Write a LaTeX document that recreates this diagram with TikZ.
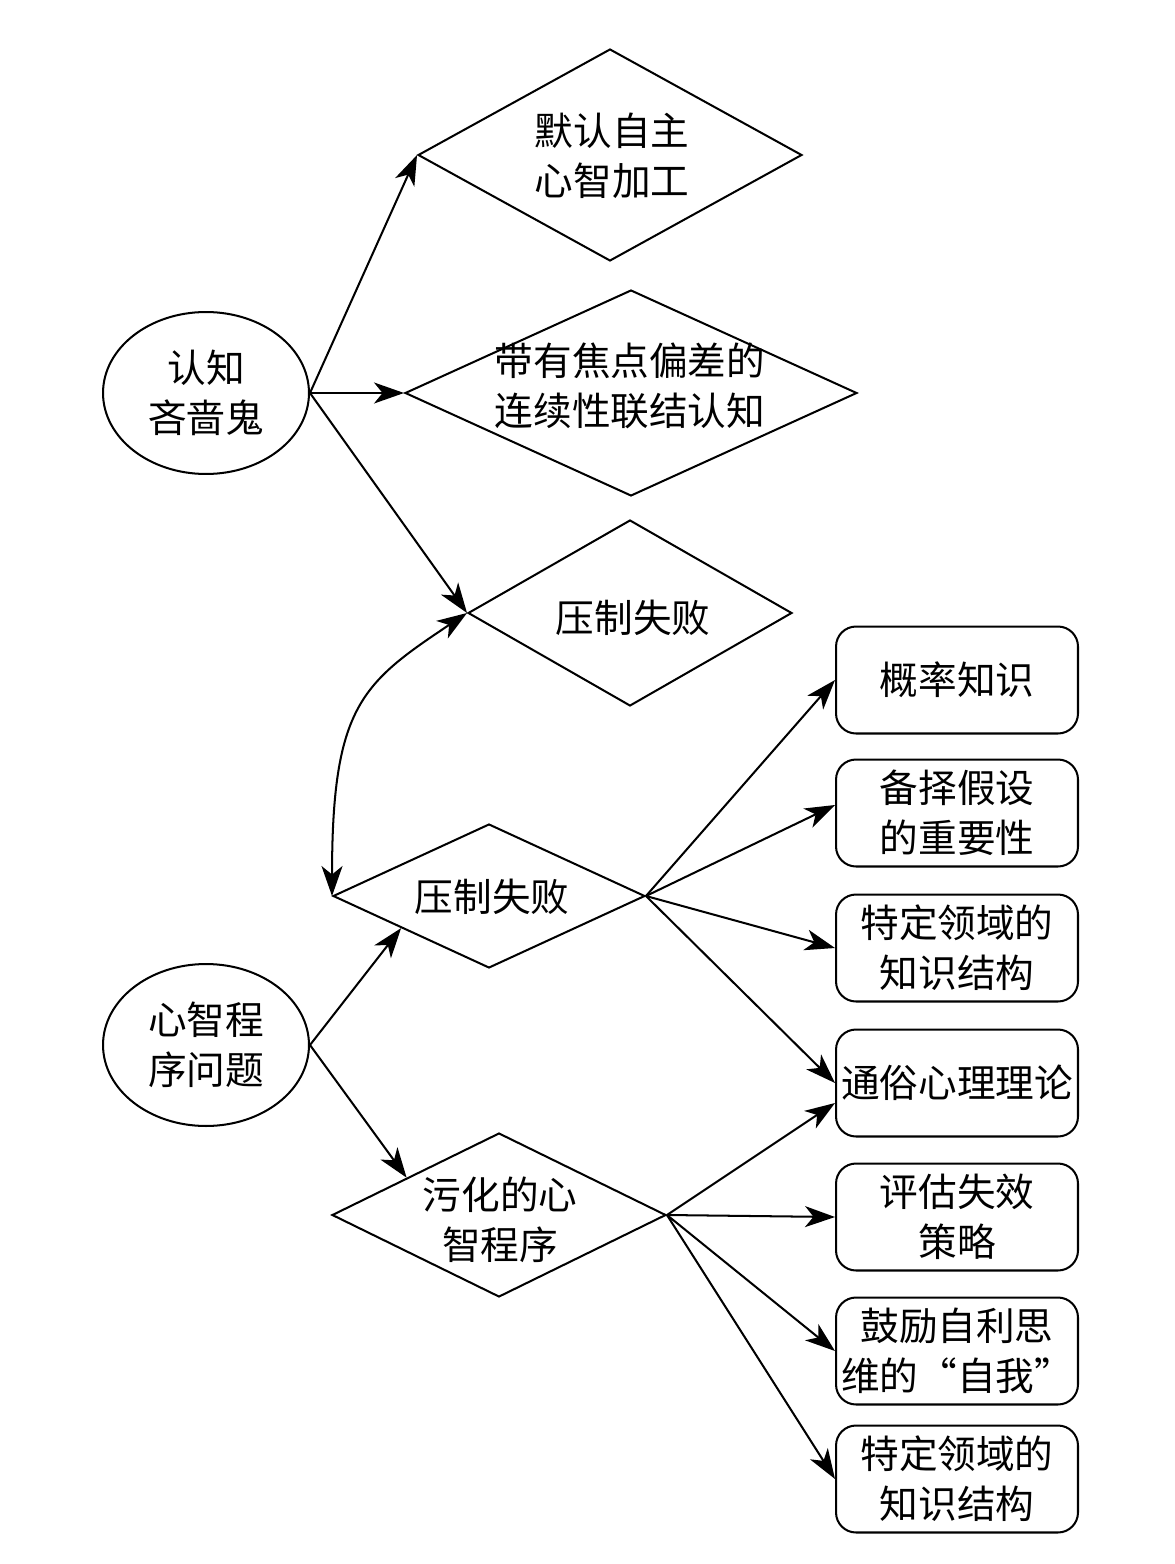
\documentclass[tikz,border=0pt]{standalone}
\usepackage{fontspec}
\setmainfont{Noto Sans CJK SC}
\usetikzlibrary{shapes.geometric,arrows.meta,calc}
\newcommand\cjkfs{\fontsize{22pt}{28.5pt}\selectfont}
\begin{document}
\begin{tikzpicture}[x=0.02cm,y=-0.02cm,
  lw/.style={line width=1.15pt},
  ell/.style={draw, lw, ellipse, inner sep=0pt, minimum width=4.12cm, minimum height=3.24cm, align=center, font=\cjkfs},
  dia/.style={draw, lw, diamond, inner sep=0pt},
  txt/.style={align=center, inner sep=0pt, font=\cjkfs},
  box/.style={draw, lw, rounded corners=0.4cm, minimum width=4.84cm, minimum height=2.14cm, inner sep=0pt, align=center, font=\cjkfs},
  tip/.tip={Stealth[length=0.6cm,width=0.42cm,inset=0.17cm]},
  arr/.style={lw, -tip},
]
\fill[white] (0,0) rectangle (1174,1564);
\useasboundingbox (0,0) rectangle (1174,1564);

\node[ell] (e1) at (206,393) {认知\\吝啬鬼};
\node[ell] (e2) at (206,1045) {心智程\\序问题};

\node[dia, minimum width=7.68cm, minimum height=4.24cm] (d1) at (610,155) {};
\node[txt] (d1t) at (612,156) {默认自主\\心智加工};
\node[dia, minimum width=9.04cm, minimum height=4.12cm] (d2) at (631,393) {};
\node[txt] (d2t) at (630,386) {带有焦点偏差的\\连续性联结认知};
\node[dia, minimum width=6.48cm, minimum height=3.72cm] (d3) at (630,613) {};
\node[txt] (d3t) at (633,618) {压制失败};
\node[dia, minimum width=6.24cm, minimum height=2.88cm] (d4) at (489,896) {};
\node[txt] (d4t) at (492,897) {压制失败};
\node[dia, minimum width=6.68cm, minimum height=3.28cm] (d5) at (499,1215) {};
\node[txt] (d5t) at (500,1220) {污化的心\\智程序};

\node[box] (b1) at (957,680) {概率知识};
\node[box] (b2) at (957,813) {备择假设\\的重要性};
\node[box] (b3) at (957,948) {特定领域的\\知识结构};
\node[box] (b4) at (957,1083) {通俗心理理论};
\node[box] (b5) at (957,1217) {评估失效\\策略};
\node[box] (b6) at (957,1351) {鼓励自利思\\维的“自我”};
\node[box] (b7) at (957,1479) {特定领域的\\知识结构};

\draw[arr] (e1.east) -- (d1.west);
\draw[arr] (e1.east) -- (d2.west);
\draw[arr] (e1.east) -- (d3.west);
\draw[lw, tip-tip] (d3.west) .. controls +(-105,70) and +(0,-190) .. (d4.west);
\draw[arr] (e2.east) -- ($(d4.west)!0.44!(d4.south)$);
\draw[arr] (e2.east) -- ($(d5.west)!0.45!(d5.north)$);
\draw[arr] (d4.east) -- (b1.west);
\draw[arr] (d4.east) -- ($(b2.west)+(0,-8)$);
\draw[arr] (d4.east) -- (b3.west);
\draw[arr] (d4.east) -- (b4.west);
\draw[arr] (d5.east) -- ($(b4.west)+(0,20)$);
\draw[arr] (d5.east) -- (b5.west);
\draw[arr] (d5.east) -- (b6.west);
\draw[arr] (d5.east) -- (b7.west);
\end{tikzpicture}
\end{document}
